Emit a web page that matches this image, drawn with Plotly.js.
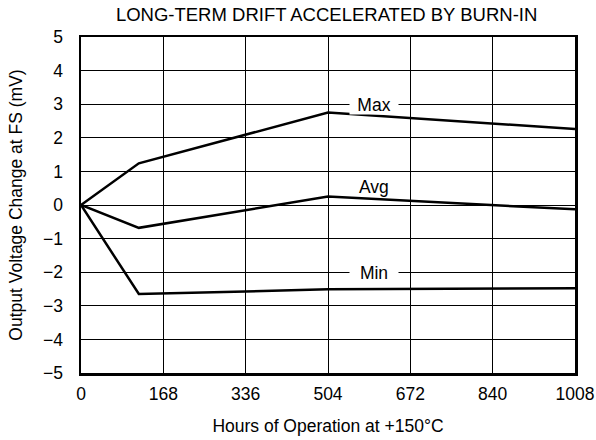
<!DOCTYPE html>
<html><head><meta charset="utf-8">
<script src="https://cdn.plot.ly/plotly-3.0.1.min.js"></script>
<style>html,body{margin:0;padding:0;background:#fff}</style>
</head><body><div id="chart" style="width:596px;height:440px"></div>
<script>
const hours = [0, 118, 504, 1008];
const maxVals = [0, 1.24, 2.75, 2.26];
const avgVals = [0, -0.68, 0.25, -0.13];
const minVals = [0, -2.65, -2.51, -2.48];
const xTicks = [0, 168, 336, 504, 672, 840, 1008];
const yTicks = [-5, -4, -3, -2, -1, 0, 1, 2, 3, 4, 5];
const seriesNames = ['Max', 'Avg', 'Min'];
const labelX = [598, 598, 598];
const labelY = [3.0, 0.55, -2.0];

const lineStyle = {color: '#000', width: 2.5};
const traces = [maxVals, avgVals, minVals].map((v, i) => ({
  x: hours, y: v, type: 'scatter', mode: 'lines', name: seriesNames[i],
  line: lineStyle, hoverinfo: 'skip'
}));

const font = {family: '"Liberation Sans", Arial, sans-serif', color: '#000'};
const fs = 17.5;
const layout = {
  width: 596, height: 440,
  margin: {l: 81, r: 21, t: 37, b: 67},
  paper_bgcolor: '#fff', plot_bgcolor: '#fff',
  showlegend: false,
  font: Object.assign({size: fs}, font),
  title: {text: 'LONG-TERM DRIFT ACCELERATED BY BURN-IN', x: 0.548, xanchor: 'center',
          y: 0.968, yanchor: 'middle', font: Object.assign({size: 18.5}, font)},
  xaxis: {
    range: [0, 1008], tickvals: xTicks, ticktext: xTicks.map(String),
    showgrid: true, gridcolor: '#000', gridwidth: 1,
    showline: true, linecolor: '#000', linewidth: 2.5, mirror: true,
    ticks: '', zeroline: false, tickfont: Object.assign({size: fs}, font),
    ticklabelstandoff: 3,
    title: {text: 'Hours of Operation at +150°C', font: Object.assign({size: fs}, font), standoff: 17}
  },
  yaxis: {
    range: [-5, 5], tickvals: yTicks,
    showgrid: true, gridcolor: '#000', gridwidth: 1,
    showline: true, linecolor: '#000', linewidth: 2.5, mirror: true,
    ticks: '', zeroline: false, tickfont: Object.assign({size: fs}, font),
    ticklabelstandoff: 12,
    title: {text: 'Output Voltage Change at FS (mV)', font: Object.assign({size: fs}, font), standoff: 16}
  },
  annotations: seriesNames.map((n, i) => {
    const a = {
      x: labelX[i], y: labelY[i], text: n, showarrow: false,
      font: Object.assign({size: fs}, font), xanchor: 'center', yanchor: 'middle'
    };
    if (i !== 1) { Object.assign(a, {bgcolor: '#fff', borderpad: 0, width: 48, height: 19}); }
    return a;
  })
};
Plotly.newPlot('chart', traces, layout, {staticPlot: true, displayModeBar: false});
</script></body></html>
